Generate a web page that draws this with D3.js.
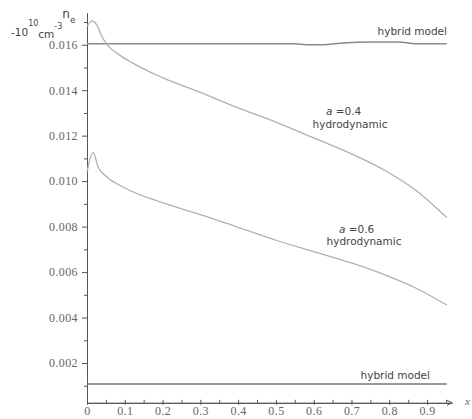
<!DOCTYPE html>
<html>
<head>
<meta charset="utf-8">
<script src="https://cdn.jsdelivr.net/npm/d3@7"></script>
<style>
  body { margin: 0; background: #fff; }
  .axis path, .axis line { stroke: #555; }
  .axis text { font-family: "Liberation Serif", serif; font-size: 12px; fill: #666; letter-spacing: 0.4px; }
  .lbl { font-family: "DejaVu Sans", sans-serif; font-size: 10.5px; fill: #444; }
</style>
</head>
<body>
<div id="chart"></div>
<script>
      var w = 472;
      var h = 419;

      // x positions and densities (10^10 cm^-3)
      var xA04 = [0, 0.013, 0.025, 0.04, 0.053, 0.08, 0.12, 0.2, 0.3, 0.4, 0.5, 0.6, 0.7, 0.8, 0.87, 0.952];
      var nA04 = [0.0168, 0.01705, 0.0169, 0.01635, 0.016, 0.01562, 0.0152, 0.01455, 0.0139, 0.01322, 0.0126, 0.0119, 0.0112, 0.01036, 0.0096, 0.0084];

      var xA06 = [0, 0.016, 0.03, 0.053, 0.1, 0.2, 0.3, 0.4, 0.5, 0.6, 0.7, 0.8, 0.87, 0.952];
      var nA06 = [0.0104, 0.01125, 0.0106, 0.01018, 0.0097, 0.00905, 0.00853, 0.00797, 0.0074, 0.0069, 0.0064, 0.0058, 0.0053, 0.00455];

      var xHybTop = [0, 0.55, 0.58, 0.62, 0.68, 0.75, 0.82, 0.88, 0.952];
      var nHybTop = [0.01604, 0.01604, 0.016, 0.016, 0.01608, 0.01612, 0.01612, 0.01604, 0.01604];

      var xHybBot = [0, 0.952];
      var nHybBot = [0.00108, 0.00108];

      var xTicks = [0, 0.1, 0.2, 0.3, 0.4, 0.5, 0.6, 0.7, 0.8, 0.9];
      var yTicks = [0.002, 0.004, 0.006, 0.008, 0.010, 0.012, 0.014, 0.016];

      var xScale = d3.scaleLinear().domain([0, 0.966]).range([87, 452]);
      var yScale = d3.scaleLinear().domain([0.00025, 0.0174]).range([402.8, 12.9]);

      var svg = d3.select("#chart")
            .append("svg")
            .attr("width", w)
            .attr("height", h);

      // minor ticks
      var xMinor = d3.range(0.05, 0.96, 0.1);
      var yMinor = d3.range(0.001, 0.0171, 0.002);

      svg.append("g")
         .attr("class", "axis")
         .attr("transform", "translate(0," + yScale(0.00025) + ")")
         .call(d3.axisBottom(xScale).tickValues(xMinor).tickSize(-3).tickSizeOuter(0).tickFormat(""));

      var xAxis = svg.append("g")
         .attr("class", "axis")
         .attr("transform", "translate(0," + yScale(0.00025) + ")")
         .call(d3.axisBottom(xScale).tickValues(xTicks).tickSize(-4).tickSizeOuter(0)
               .tickPadding(4).tickFormat(function(d) { return d === 0 ? "0" : d3.format(".1f")(d); }));
      xAxis.selectAll(".tick line").attr("y2", -3).attr("y1", 2);

      svg.append("g")
         .attr("class", "axis")
         .attr("transform", "translate(" + xScale(0) + ",0)")
         .call(d3.axisLeft(yScale).tickValues(yMinor).tickSize(3).tickSizeOuter(0).tickFormat(""));

      svg.append("g")
         .attr("class", "axis")
         .attr("transform", "translate(" + xScale(0) + ",0)")
         .call(d3.axisLeft(yScale).tickValues(yTicks).tickSize(5).tickSizeOuter(0)
               .tickPadding(4).tickFormat(d3.format(".3f")));

      // arrow at end of x axis
      svg.append("path")
         .attr("d", "M" + (xScale(0.966) - 5) + "," + (yScale(0.00025) - 2.5) + "L" + xScale(0.966) + "," + yScale(0.00025) +
               "L" + (xScale(0.966) - 5) + "," + (yScale(0.00025) + 2.5))
         .attr("fill", "none").attr("stroke", "#555");

      var line = d3.line()
                   .x(function(d) { return xScale(d[0]); })
                   .y(function(d) { return yScale(d[1]); })
                   .curve(d3.curveMonotoneX);

      var series = [[xHybTop, nHybTop, "#8a8a8a", 1.5],
                    [xHybBot, nHybBot, "#777", 1.5],
                    [xA04, nA04, "#b0b0b0", 1.3],
                    [xA06, nA06, "#b0b0b0", 1.3]];

      series.forEach(function(s) {
        svg.append("path")
           .datum(d3.zip(s[0], s[1]))
           .attr("fill", "none")
           .attr("stroke", s[2])
           .attr("stroke-width", s[3])
           .attr("d", line);
      });

      // labels
      svg.append("text").attr("class", "lbl").attr("x", 447).attr("y", 35).attr("text-anchor", "end").text("hybrid model");
      svg.append("text").attr("class", "lbl").attr("x", 430).attr("y", 379).attr("text-anchor", "end").text("hybrid model");

      var a04 = svg.append("text").attr("class", "lbl").attr("x", 326).attr("y", 115);
      a04.append("tspan").attr("font-style", "italic").text("a");
      a04.append("tspan").text(" =0.4");
      svg.append("text").attr("class", "lbl").attr("x", 350).attr("y", 128).attr("text-anchor", "middle").text("hydrodynamic");

      var a06 = svg.append("text").attr("class", "lbl").attr("x", 339).attr("y", 233);
      a06.append("tspan").attr("font-style", "italic").text("a");
      a06.append("tspan").text(" =0.6");
      svg.append("text").attr("class", "lbl").attr("x", 364).attr("y", 245).attr("text-anchor", "middle").text("hydrodynamic");

      // y axis title
      var yt = svg.append("text").attr("class", "lbl").attr("x", 11).attr("y", 36);
      yt.append("tspan").text("-10");
      yt.append("tspan").attr("dy", -10).attr("font-size", "8px").text("10");
      yt.append("tspan").attr("dy", 12).text("cm");
      yt.append("tspan").attr("dy", -9).attr("font-size", "8px").text("-3");
      yt.append("tspan").attr("dy", -11).attr("font-size", "12px").text("n");
      yt.append("tspan").attr("dy", 5).attr("font-size", "9px").text("e");

      svg.append("text").attr("x", 465).attr("y", 405)
         .attr("font-family", "Liberation Serif, serif").attr("font-style", "italic")
         .attr("font-size", "11px").attr("fill", "#666").text("x");
</script>
</body>
</html>
